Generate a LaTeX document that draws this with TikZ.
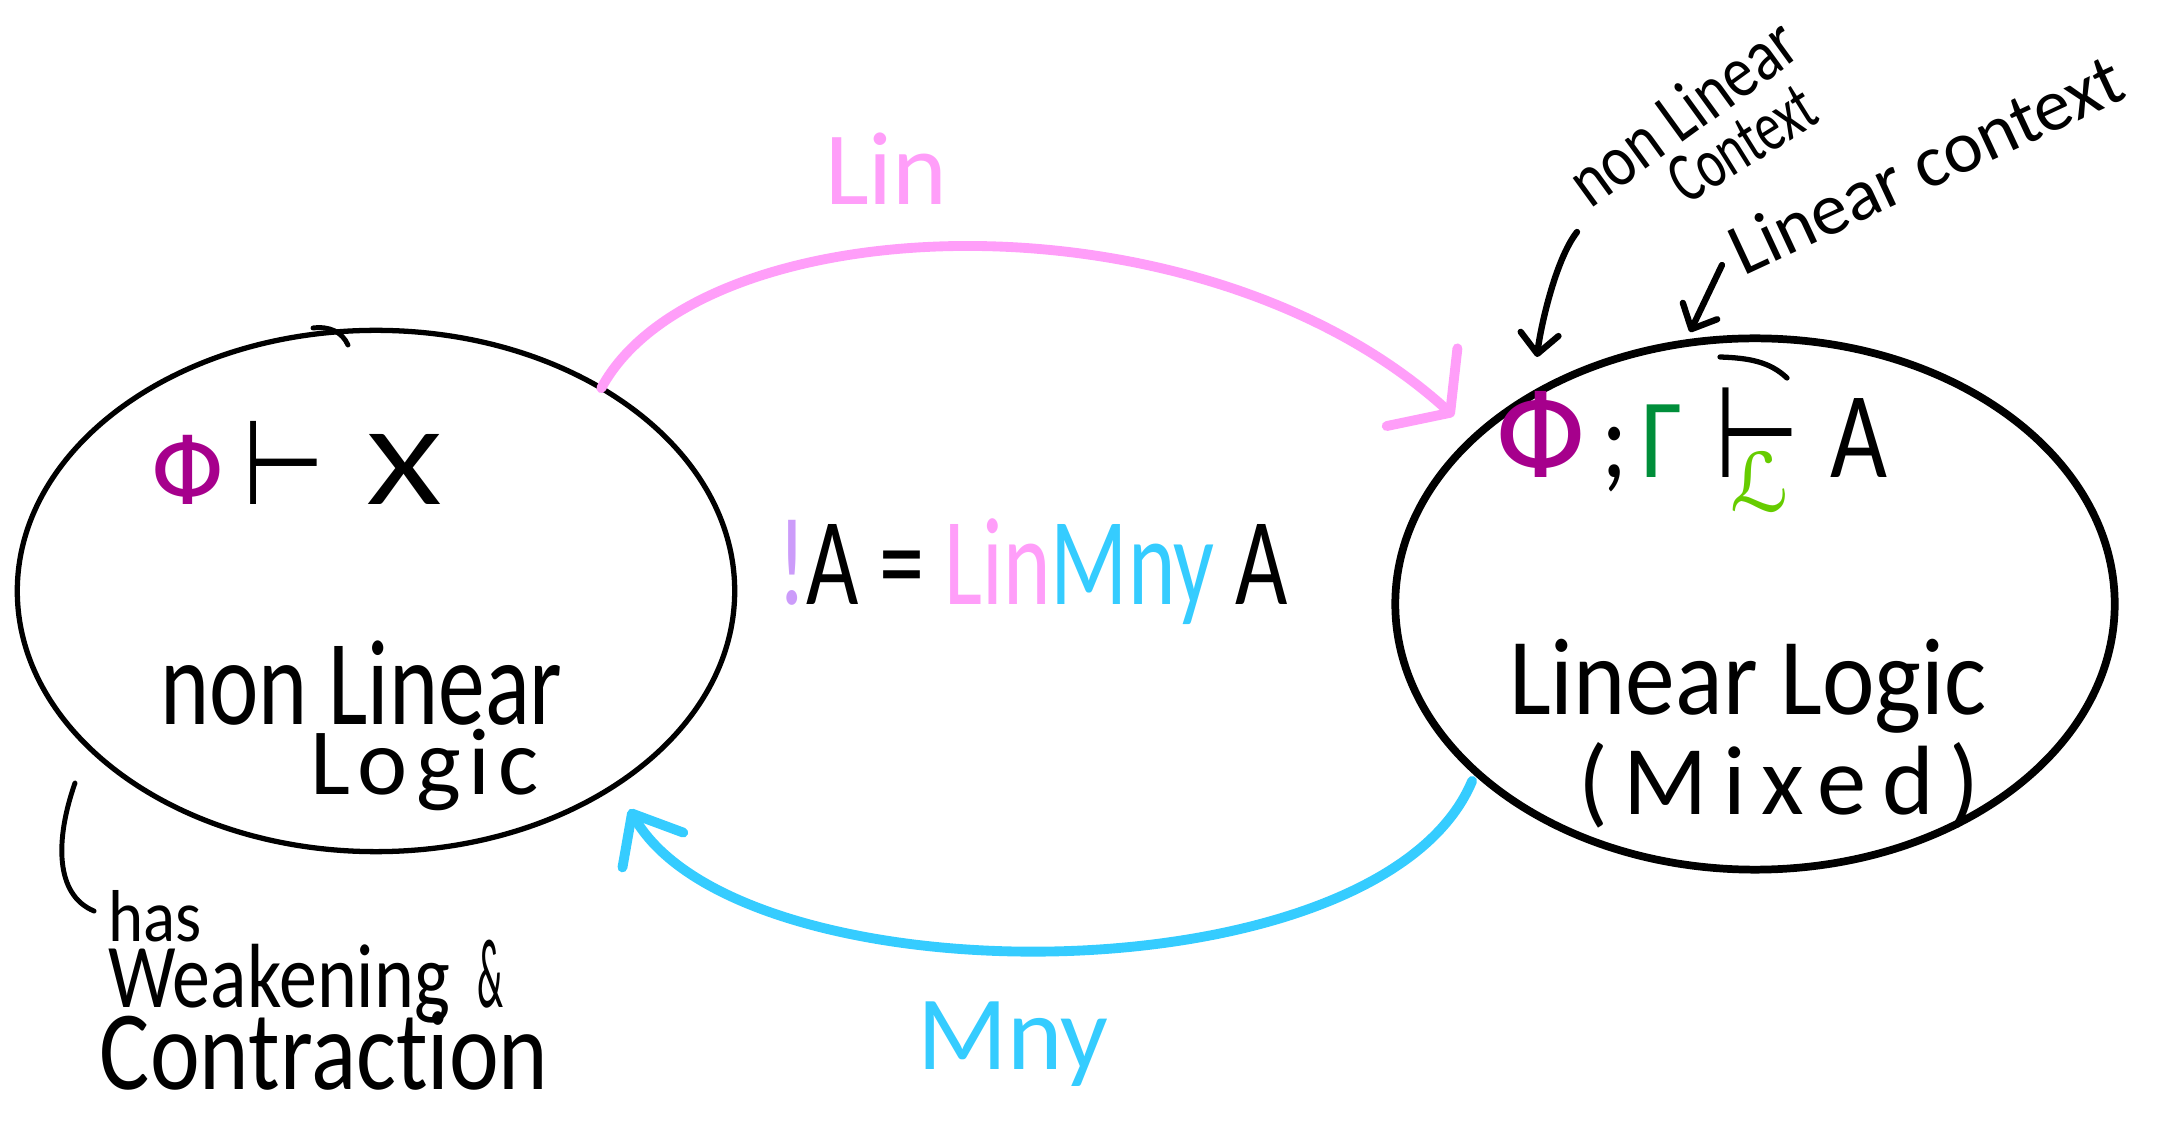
\documentclass[tikz,border=0pt]{standalone}
\usepackage{fontspec}
\setmainfont{Carlito}[Ligatures=NoCommon]
\newfontfamily\symfont{DejaVu Sans}
\usepackage{graphicx}
\usetikzlibrary{shapes.geometric,arrows.meta}

\definecolor{phipurple}{HTML}{A6008C}
\definecolor{linpink}{HTML}{FF9EF9}
\definecolor{mnyblue}{HTML}{35CCFF}
\definecolor{bangviolet}{HTML}{CC9CFA}
\definecolor{gammagreen}{HTML}{008E3A}
\definecolor{ellgreen}{HTML}{66CC00}

\begin{document}
\begin{tikzpicture}[
  x=0.01cm, y=-0.01cm,
  every node/.style={inner sep=0pt, outer sep=0pt},
  logicblob/.style={draw, ellipse, line width=1.5pt},
  hand/.style={anchor=base west},
  linarrow/.style={draw=linpink, line width=2.8pt, line cap=round,
    -{Straight Barb[length=0.38cm, width=1.05cm, round]}},
  mnyarrow/.style={draw=mnyblue, line width=2.8pt, line cap=round,
    -{Straight Barb[length=0.42cm, width=0.7cm, round]}},
  pointer/.style={line width=1.8pt, line cap=round,
    -{Straight Barb[length=0.2cm, width=0.38cm, round]}},
]
\useasboundingbox (0,0) rectangle (2181,1131);

% ── the two logics ──
\node[logicblob, minimum width=7.17cm, minimum height=5.21cm] (nonlin) at (376,591) {};
\node[logicblob, line width=2.2pt, minimum width=7.19cm, minimum height=5.31cm] (lin) at (1755,604) {};

% pen overlaps where the loops were closed
\draw[line width=1.4pt, line cap=round] (313,328) .. controls (330,326) and (342,332) .. (348,345);
\draw[line width=1.5pt, line cap=round] (1720,357) .. controls (1750,358) and (1770,362) .. (1787,378);

% ── sequents ──
\node[hand, font=\fontsize{27}{30}\selectfont] (nlseq) at (150,505)
  {{\symfont\textcolor{phipurple}{Φ}\hspace{5pt}\scalebox{1}[1.25]{⊢}}\hspace{12pt}\scalebox{1.5}[1.15]{X}};
\node[hand, font=\fontsize{28}{30}\selectfont] (lseq) at (1494,478)
  {\scalebox{1.2}[1.2]{\symfont\textcolor{phipurple}{Φ}}\hspace{4pt}\scalebox{1}[1.15]{;\hspace{4pt}\textcolor{gammagreen}{Γ}}%
   \hspace{9pt}\rlap{\symfont\scalebox{1}[1.3]{⊢}}\hspace{0.16cm}%
   \raisebox{-9.5pt}{\fontsize{23}{24}\selectfont\symfont\textcolor{ellgreen}{ℒ}}%
   \hspace{12pt}\scalebox{1}[1.25]{A}};

% ── logic names ──
\node[hand, font=\fontsize{26.6}{30}\selectfont] (nlname) at (160,725) {\scalebox{1}[1.3]{non Linear}};
\node[hand, font={\fontsize{27}{30}\selectfont\addfontfeature{LetterSpace=8.5}}] (nlname2) at (310,795) {Logic};
\node[hand, font=\fontsize{28.3}{30}\selectfont] (lname) at (1509,715) {\scalebox{1}[1.1]{Linear Logic}};
\node[hand, font={\fontsize{28}{30}\selectfont\addfontfeature{LetterSpace=16}}] (lname2) at (1578,815) {(Mixed)};

% ── functors ──
\node[hand, text=linpink, font=\fontsize{29.6}{32}\selectfont] (linlbl) at (825,205) {Lin};
\node[hand, text=mnyblue, font=\fontsize{30}{32}\selectfont] (mnylbl) at (917,1070) {Mny};
\node[hand, font=\fontsize{25.7}{28}\selectfont] (bangdef) at (777,605)
  {\scalebox{1}[1.38]{\textcolor{bangviolet}{!}A = \textcolor{linpink}{Lin}\textcolor{mnyblue}{Mny} A}};

\draw[linarrow, shorten >=0.3cm] (nonlin.42) .. controls (700,205) and (1200,185) .. (lin.149);
\draw[mnyarrow, shorten <=0.1cm, shorten >=0.28cm] (lin.211) .. controls (1380,1002) and (740,1002) .. (nonlin.321);

% ── notes ──
\node[hand, rotate=36, font=\fontsize{17.5}{20}\selectfont] (ctxnl) at (1590,210) {\scalebox{1}[1.2]{non Linear}};
\node[hand, rotate=32, font=\fontsize{14.5}{16}\selectfont] (ctxnl2) at (1686,206) {\scalebox{1}[1.4]{Context}};
\node[hand, rotate=25, font=\fontsize{21}{23}\selectfont] (ctxl) at (1743,277) {Linear context};

\coordinate (nltail) at (1577,232);
\coordinate (nltip) at (1537,357);
\draw[pointer] (nltail) .. controls (1555,260) and (1540,330) .. (nltip);
\coordinate (ltail) at (1722,265);
\coordinate (ltip) at (1690,332);
\draw[pointer] (ltail) -- (ltip);

\node[hand, font=\fontsize{19}{20}\selectfont] (has) at (108,942) {\scalebox{1}[1.1]{has}};
\node[hand, font=\fontsize{21.6}{23}\selectfont] (weak) at (108,1008)
  {\scalebox{1}[1.2]{Weakening}\hspace{8pt}\scalebox{0.5}[1.3]{\&}};
\node[hand, font=\fontsize{26.8}{28}\selectfont] (contr) at (100,1090) {\scalebox{1}[1.2]{Contraction}};
\coordinate (hastail) at (75,783);
\draw[line width=1.4pt, line cap=round, shorten >=0.15cm] (hastail) .. controls (55,840) and (55,895) .. (has.west);

\end{tikzpicture}
\end{document}
